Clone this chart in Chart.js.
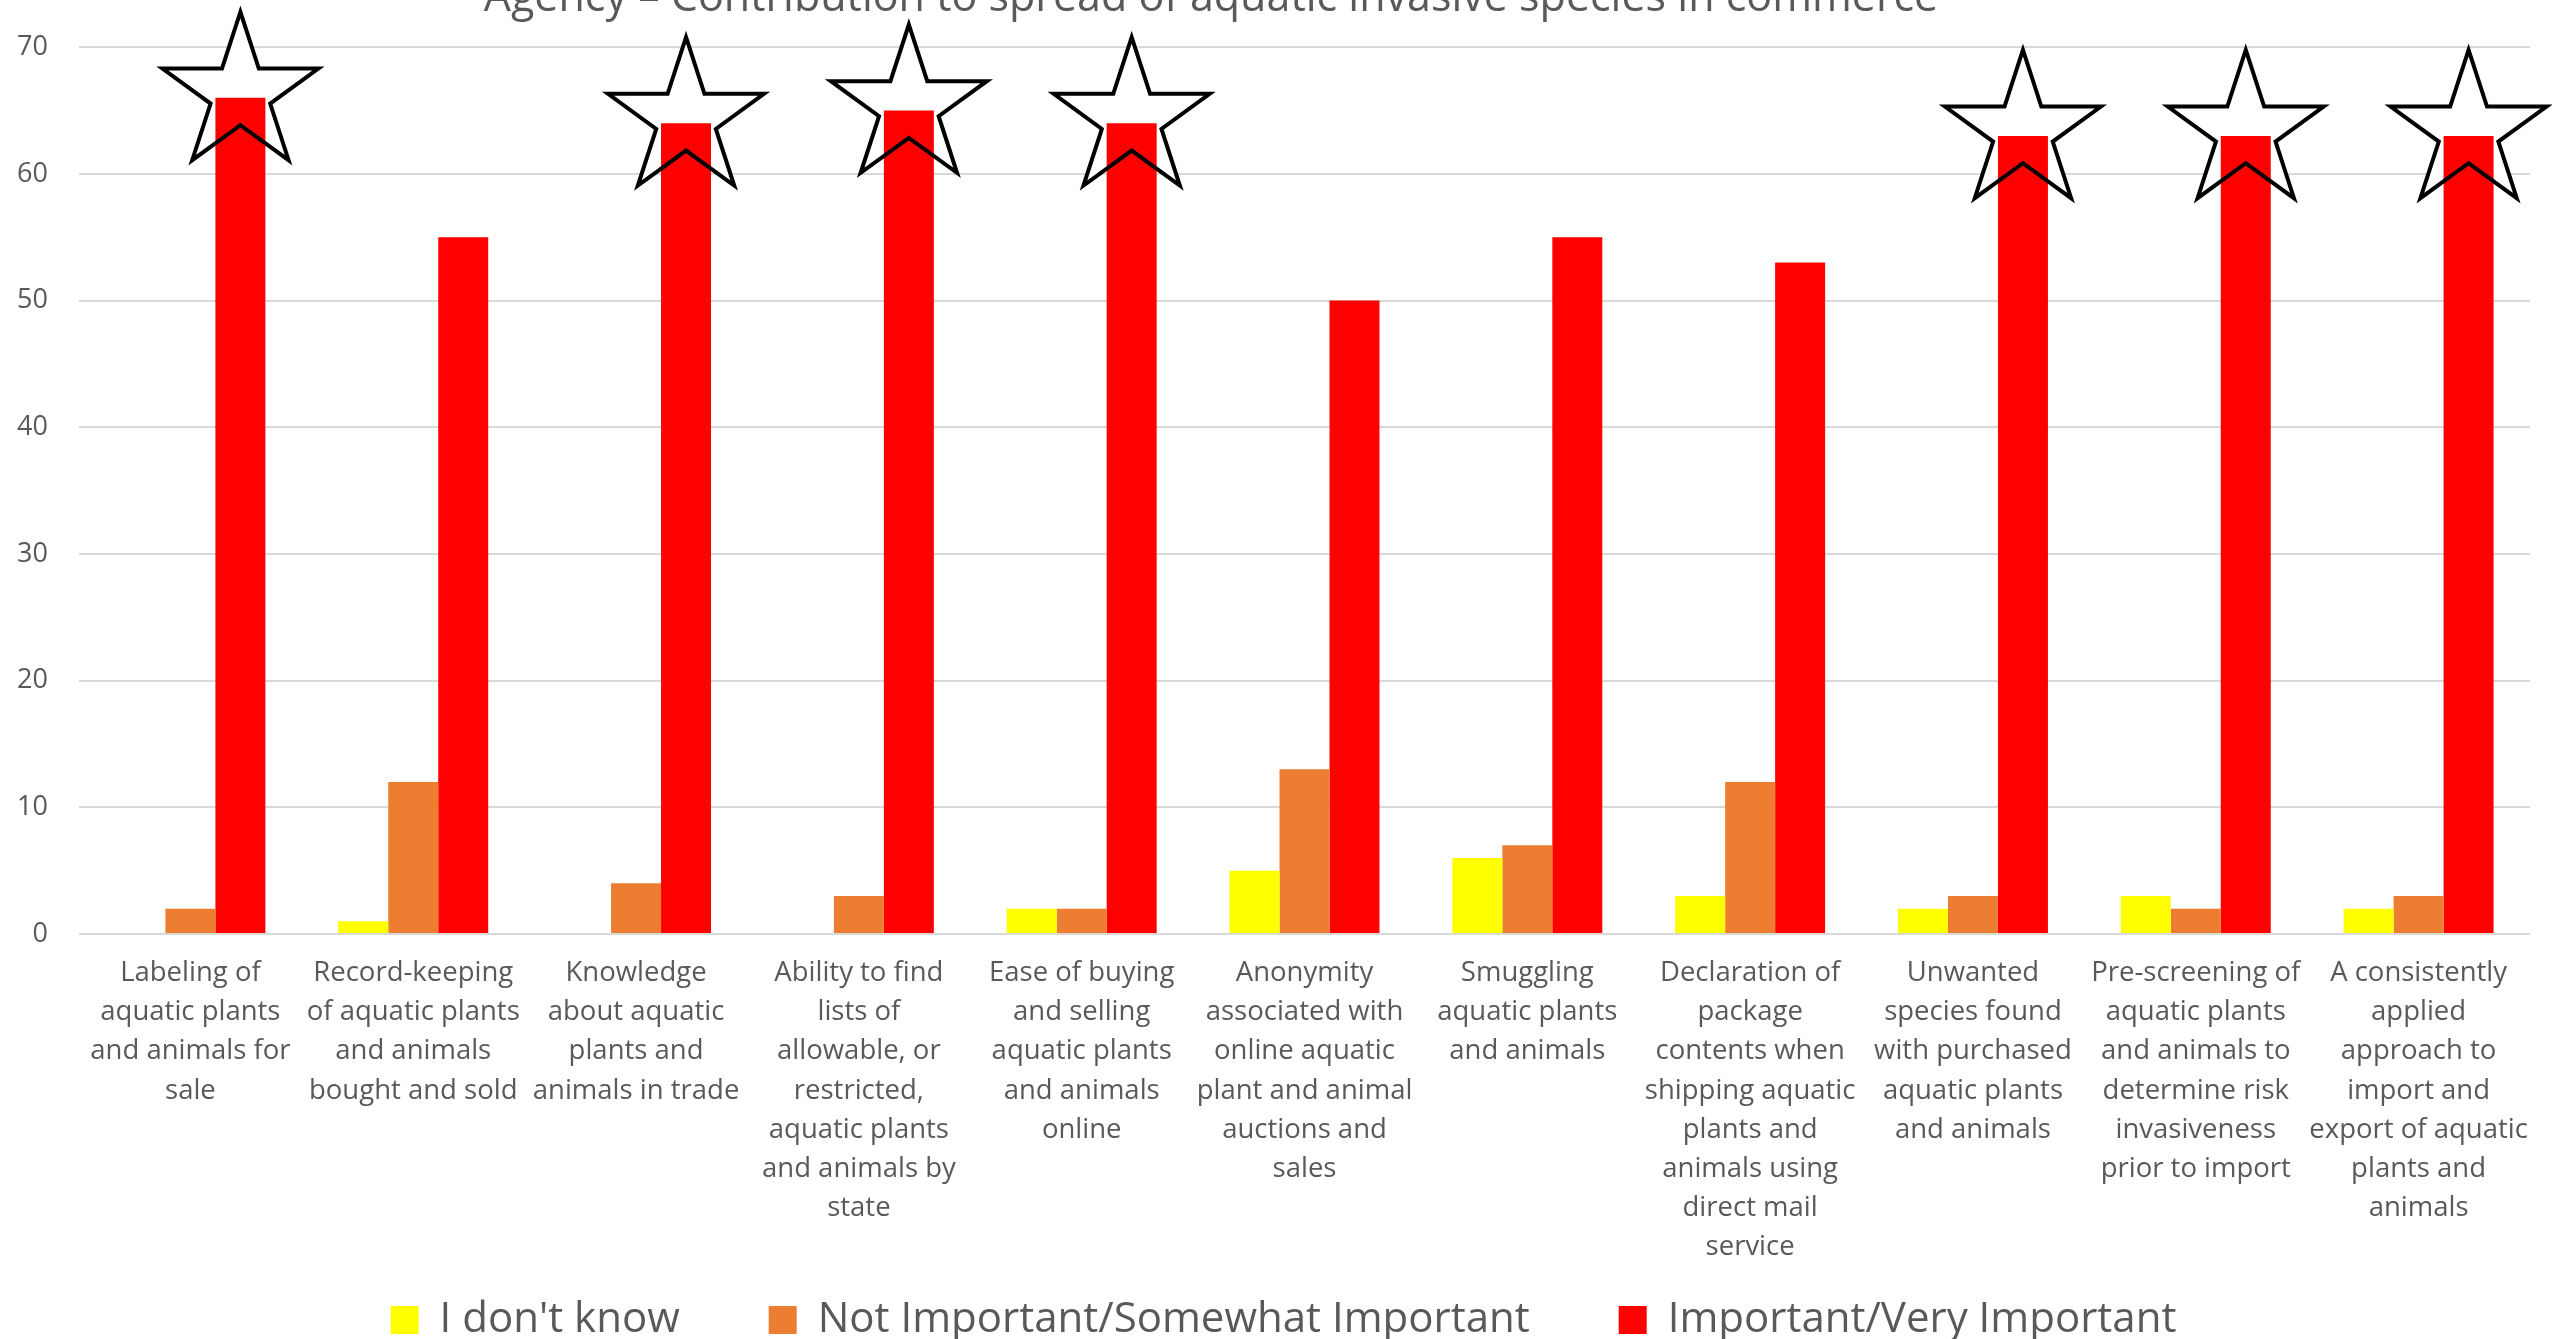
<!DOCTYPE html>
<html>
<head>
<meta charset="utf-8">
<script src="https://cdn.jsdelivr.net/npm/chart.js@4.4.1/dist/chart.umd.min.js"></script>
<style>
  html, body { margin: 0; padding: 0; background: #fff; overflow: hidden; }
  #wrap { width: 2552px; height: 1339px; overflow: hidden; }
  canvas { display: block; }
</style>
</head>
<body>
<div id="wrap"><canvas id="chart" width="2552" height="1351"></canvas></div>
<script>
// Survey answers per topic (number of agency respondents)
const categories = [
  ["Labeling of", "aquatic plants", "and animals for", "sale"],
  ["Record-keeping", "of aquatic plants", "and animals", "bought and sold"],
  ["Knowledge", "about aquatic", "plants and", "animals in trade"],
  ["Ability to find", "lists of", "allowable, or", "restricted,", "aquatic plants", "and animals by", "state"],
  ["Ease of buying", "and selling", "aquatic plants", "and animals", "online"],
  ["Anonymity", "associated with", "online aquatic", "plant and animal", "auctions and", "sales"],
  ["Smuggling", "aquatic plants", "and animals"],
  ["Declaration of", "package", "contents when", "shipping aquatic", "plants and", "animals using", "direct mail", "service"],
  ["Unwanted", "species found", "with purchased", "aquatic plants", "and animals"],
  ["Pre-screening of", "aquatic plants", "and animals to", "determine risk", "invasiveness", "prior to import"],
  ["A consistently", "applied", "approach to", "import and", "export of aquatic", "plants and", "animals"],
];
const dontKnow     = [0, 1, 0, 0, 2, 5, 6, 3, 2, 3, 2];
const notImportant = [2, 12, 4, 3, 2, 13, 7, 12, 3, 2, 3];
const important    = [66, 55, 64, 65, 64, 50, 55, 53, 63, 63, 63];
// topics flagged with a star above the red bar
const starred = [true, false, true, true, true, false, false, false, true, true, true];

const seriesNames = ["I don't know", "Not Important/Somewhat Important", "Important/Very Important"];
const yMax = 70;
const yStep = 10;
const titleText = "Agency \u2013 Contribution to spread of aquatic invasive species in commerce";

const FONT = '"Open Sans", "DejaVu Sans", sans-serif';
const GREY = "#595959";

// five-pointed star outline
const starPath = (ctx, cx, cy, outer, inner) => {
  ctx.beginPath();
  for (let k = 0; k < 10; k++) {
    const rad = k % 2 === 0 ? outer : inner;
    const a = -Math.PI / 2 + (k * Math.PI) / 5;
    const px = cx + rad * Math.cos(a);
    const py = cy + rad * Math.sin(a);
    if (k === 0) ctx.moveTo(px, py);
    else ctx.lineTo(px, py);
  }
  ctx.closePath();
};

const STAR_R = 82;
const starPoints = (chart) => {
  const meta = chart.getDatasetMeta(2);
  return starred
    .map((on, i) => (on ? { x: meta.data[i].x, y: meta.data[i].y - 4 } : null))
    .filter(Boolean);
};

// white fill goes under the bars, the black outline goes on top
const starsPlugin = {
  id: "stars",
  beforeDatasetsDraw(chart) {
    const ctx = chart.ctx;
    ctx.save();
    ctx.fillStyle = "#ffffff";
    starPoints(chart).forEach((p) => {
      starPath(ctx, p.x, p.y, STAR_R, STAR_R * 0.382);
      ctx.fill();
    });
    ctx.restore();
  },
  afterDatasetsDraw(chart) {
    const ctx = chart.ctx;
    ctx.save();
    ctx.strokeStyle = "#000000";
    ctx.lineWidth = 4;
    ctx.lineJoin = "miter";
    starPoints(chart).forEach((p) => {
      starPath(ctx, p.x, p.y, STAR_R, STAR_R * 0.382);
      ctx.stroke();
    });
    ctx.restore();
  },
};

// title sits partly above the top edge
const titlePlugin = {
  id: "cutTitle",
  afterDraw(chart) {
    const ctx = chart.ctx;
    ctx.save();
    ctx.font = "43px " + FONT;
    ctx.fillStyle = GREY;
    ctx.textAlign = "center";
    ctx.textBaseline = "alphabetic";
    ctx.fillText(titleText, 1211, 11);
    ctx.restore();
  },
};

const makeDataset = (label, data, color) => ({
  label,
  data,
  backgroundColor: color,
  borderWidth: 0,
  categoryPercentage: 0.673,
  barPercentage: 1.0,
});

new Chart(document.getElementById("chart").getContext("2d"), {
  type: "bar",
  data: {
    labels: categories,
    datasets: [
      makeDataset(seriesNames[0], dontKnow, "#FFFF00"),
      makeDataset(seriesNames[1], notImportant, "#ED7D31"),
      makeDataset(seriesNames[2], important, "#FF0000"),
    ],
  },
  options: {
    responsive: false,
    animation: false,
    devicePixelRatio: 1,
    layout: { padding: { top: 46, left: 17, right: 22, bottom: 0 } },
    scales: {
      x: {
        grid: { display: false, drawTicks: false },
        border: { display: false },
        ticks: {
          color: GREY,
          font: { family: FONT, size: 27.5, lineHeight: 1.42 },
          padding: 20,
          maxRotation: 0,
          minRotation: 0,
          autoSkip: false,
        },
        // labels fit inside their own category, no extra side room needed
        afterFit: (scale) => {
          scale.paddingLeft = 0;
          scale.paddingRight = 0;
          scale.height = 332;
        },
      },
      y: {
        min: 0,
        max: yMax,
        grid: { color: "#d9d9d9", lineWidth: 2, drawTicks: false },
        border: { display: false },
        ticks: {
          stepSize: yStep,
          color: GREY,
          font: { family: FONT, size: 27 },
          padding: 31,
        },
        // padding only on the plot side of the labels
        afterFit: (scale) => {
          scale.width = 62;
        },
      },
    },
    plugins: {
      title: { display: false },
      tooltip: { enabled: false },
      legend: {
        position: "bottom",
        fullSize: false,
        labels: {
          color: GREY,
          font: { family: FONT, size: 42 },
          boxWidth: 28,
          boxHeight: 28,
          padding: 33,
          generateLabels: (chart) => {
            const items = Chart.defaults.plugins.legend.labels.generateLabels(chart);
            // wider gap between legend entries
            items.forEach((item, i) => {
              item.text += i < items.length - 1 ? "\u2003\u2004" : "\u2003";
            });
            return items;
          },
        },
      },
    },
  },
  plugins: [starsPlugin, titlePlugin],
});
</script>
</body>
</html>
